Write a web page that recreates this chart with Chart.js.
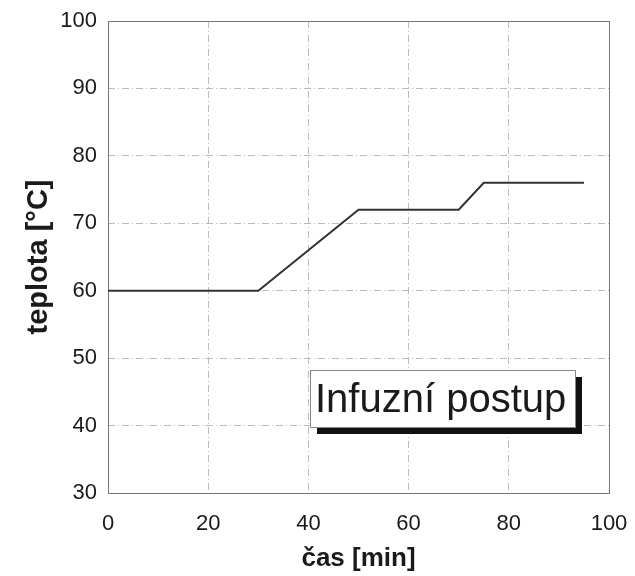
<!DOCTYPE html>
<html>
<head>
<meta charset="utf-8">
<script src="https://cdn.jsdelivr.net/npm/chart.js@4"></script>
<style>
  html, body { margin: 0; padding: 0; background: #fff; }
  #chart { display: block; }
</style>
</head>
<body>
<canvas id="chart" width="635" height="576"></canvas>
<script>
// data
const timeMin = [0, 30, 50, 70, 75, 95];
const tempC = [60, 60, 72, 72, 76, 76];
const xTicks = [0, 20, 40, 60, 80, 100];
const yTicks = [30, 40, 50, 60, 70, 80, 90, 100];
const seriesLabel = 'Infuzní postup';

const points = timeMin.map((t, i) => ({ x: t, y: tempC[i] }));
const fontFamily = '"Liberation Sans", Arial, sans-serif';

// boxed label with drop shadow, like the original annotation
const labelBox = {
    id: 'labelBox',
    afterDatasetsDraw(chart) {
        const { ctx, chartArea } = chart;
        const w = 265, h = 57;
        const right = chartArea.right - 34;
        const bottom = chartArea.bottom - 66;
        const left = right - w, top = bottom - h;
        ctx.save();
        ctx.fillStyle = '#111';
        ctx.fillRect(left + 7, top + 7, w, h);
        ctx.fillStyle = '#fff';
        ctx.fillRect(left, top, w, h);
        ctx.strokeStyle = '#888';
        ctx.lineWidth = 1;
        ctx.strokeRect(left + 0.5, top + 0.5, w, h);
        ctx.fillStyle = '#1a1a1a';
        ctx.font = '40px ' + fontFamily;
        ctx.fillText(seriesLabel, left + 5, top + 42);
        ctx.restore();
    }
};

// solid frame round the plot, grid lines stay dash-dot
const frame = {
    id: 'frame',
    beforeDatasetsDraw(chart) {
        const { ctx, chartArea: a } = chart;
        ctx.save();
        ctx.strokeStyle = '#777';
        ctx.lineWidth = 1;
        ctx.strokeRect(Math.round(a.left) + 0.5, Math.round(a.top) + 0.5,
            Math.round(a.right - a.left), Math.round(a.bottom - a.top));
        ctx.restore();
    }
};

const gridStyle = { color: '#bbb', lineWidth: 1, drawTicks: false };
const borderStyle = { display: false, dash: [7, 3, 1, 3] };

new Chart(document.getElementById('chart'), {
    type: 'line',
    data: {
        datasets: [{
            label: seriesLabel,
            data: points,
            borderColor: '#333',
            borderWidth: 2,
            pointRadius: 0,
            tension: 0,
            fill: false
        }]
    },
    options: {
        responsive: false,
        animation: false,
        layout: { padding: { top: 21, right: 26, left: 0, bottom: 0 } },
        plugins: {
            legend: { display: false },
            tooltip: { enabled: false }
        },
        scales: {
            x: {
                type: 'linear',
                min: 0,
                max: 100,
                afterBuildTicks: (scale) => { scale.ticks = xTicks.map(v => ({ value: v })); },
                afterFit: (scale) => {
                    scale.height = 83;
                    scale.paddingLeft = 0;
                    scale.paddingRight = 0;
                },
                grid: gridStyle,
                border: borderStyle,
                ticks: {
                    color: '#1a1a1a',
                    padding: 18,
                    maxRotation: 0,
                    font: { family: fontFamily, size: 22 }
                },
                title: {
                    display: true,
                    text: 'čas [min]',
                    color: '#1a1a1a',
                    padding: { top: 0, bottom: 2 },
                    font: { family: fontFamily, size: 26, weight: 'bold' }
                }
            },
            y: {
                min: 30,
                max: 100,
                afterBuildTicks: (scale) => { scale.ticks = yTicks.map(v => ({ value: v })); },
                afterFit: (scale) => {
                    scale.width = 108;
                    scale.paddingTop = 0;
                    scale.paddingBottom = 0;
                },
                grid: gridStyle,
                border: borderStyle,
                ticks: {
                    color: '#1a1a1a',
                    padding: 11,
                    font: { family: fontFamily, size: 22 }
                },
                title: {
                    display: true,
                    text: 'teplota [°C]',
                    color: '#1a1a1a',
                    padding: { top: 22, bottom: 0 },
                    font: { family: fontFamily, size: 29, weight: 'bold' }
                }
            }
        }
    },
    plugins: [frame, labelBox]
});
</script>
</body>
</html>
